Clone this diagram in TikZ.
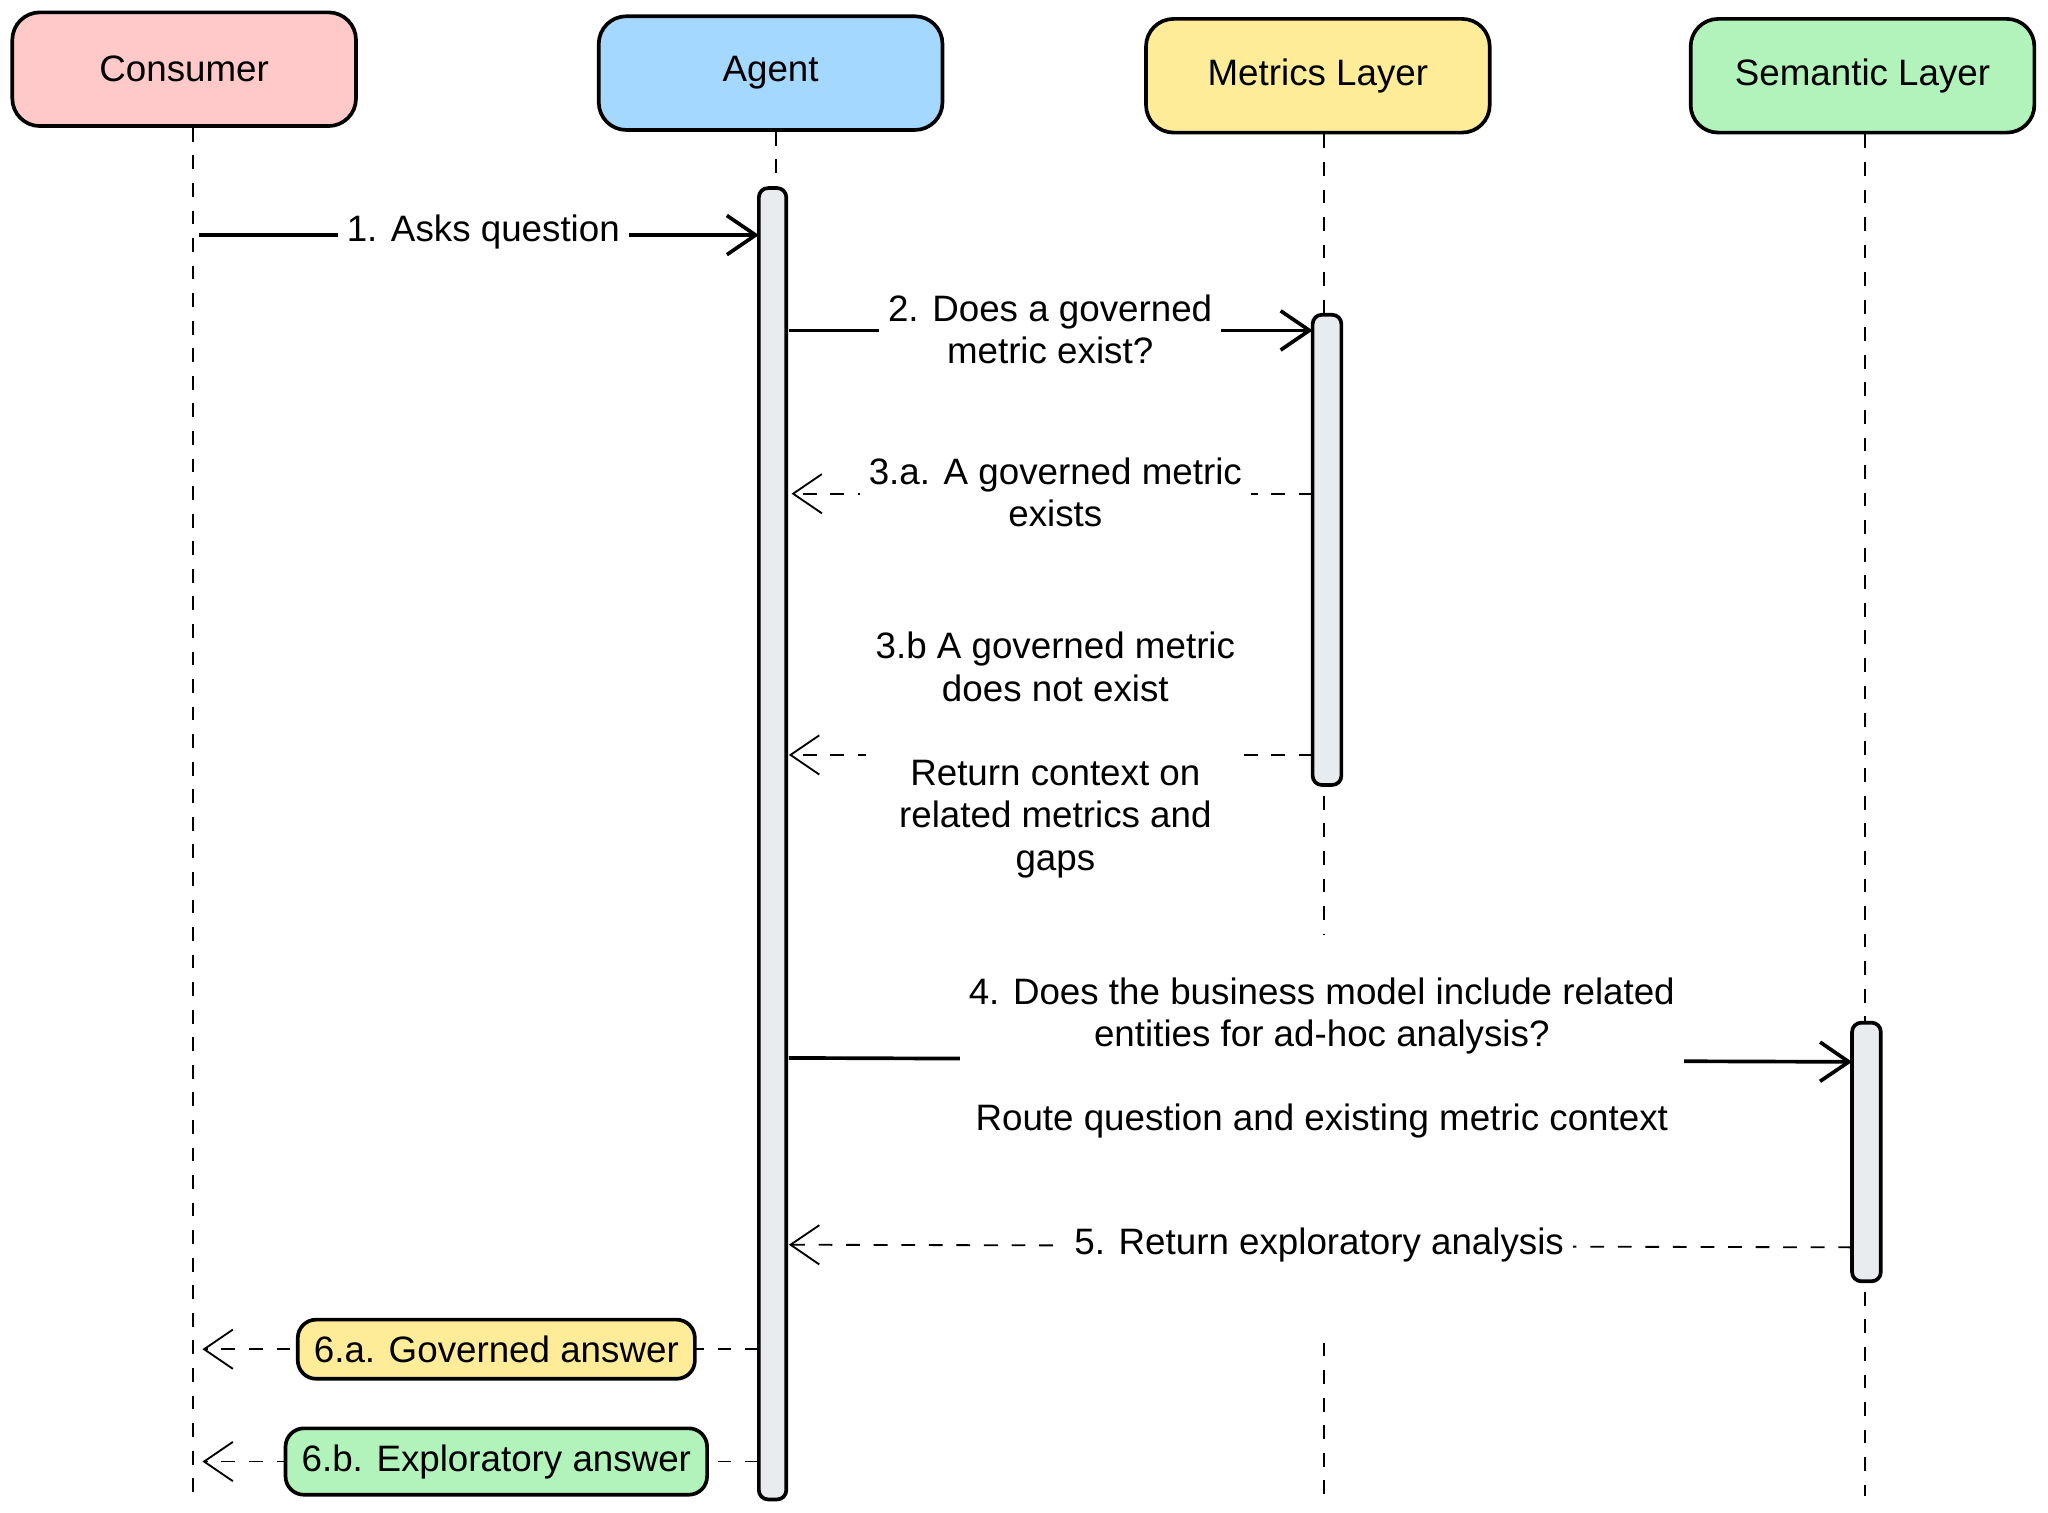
\documentclass[tikz,border=0pt]{standalone}
\usepackage{fontspec}
\setmainfont{Liberation Sans}
\usetikzlibrary{arrows.meta}
\definecolor{cpink}{HTML}{FFC9C9}
\definecolor{cblue}{HTML}{A5D8FF}
\definecolor{cyel}{HTML}{FFEC99}
\definecolor{cgreen}{HTML}{B2F2BB}
\definecolor{cgray}{HTML}{E9ECEF}
\begin{document}
\begin{tikzpicture}[x=0.01cm,y=-0.01cm,font=\fontsize{8}{9.2}\selectfont,
    actor/.style={draw,thick,rounded corners=6pt,minimum width=2.63cm,minimum height=0.87cm},
    act/.style={draw,thick,fill=cgray,rounded corners=2pt},
    life/.style={dashed,thin},
    msg/.style={thick,-{Straight Barb[length=2.2mm,width=3mm]}},
    ret/.style={thin,dashed,-{Straight Barb[length=2.2mm,width=3mm]}},
    lbl/.style={fill=white,align=center,inner sep=2pt},
    tag/.style={draw,thick,rounded corners=4pt,inner sep=3.5pt}]
    \useasboundingbox (0,0) rectangle (1568,1158);

    % actors
    \node[actor,fill=cpink] (cons) at (141,53) {Consumer};
    \node[actor,fill=cblue] (agent) at (590,56) {Agent};
    \node[actor,fill=cyel] (metr) at (1009,58) {Metrics Layer};
    \node[actor,fill=cgreen] (sem) at (1426,58) {Semantic Layer};

    % lifelines
    \coordinate (consE) at (148,1145);
    \coordinate (agentE) at (594,144);
    \coordinate (metrA) at (1014,715);
    \coordinate (metrB) at (1014,1028);
    \coordinate (metrE) at (1014,1145);
    \coordinate (semE) at (1428,1145);
    \draw[life] (cons.south -| consE) -- (consE);
    \draw[life] (agent.south -| agentE) -- (agentE);
    \draw[life] (metr.south -| metrA) -- (metrA);
    \draw[life] (metrB) -- (metrE);
    \draw[life] (sem.south -| semE) -- (semE);

    % activations
    \draw[act] (581,144) rectangle (602,1148);
    \draw[act] (1005,241) rectangle (1027,601);
    \draw[act] (1418,783) rectangle (1440,981);

    % messages
    \draw[msg] (152,180) -- (581,180);
    \node[lbl] (m1) at (370,178) {1. Asks question};
    \draw[msg] (604,253) -- (1005,253);
    \node[lbl] (m2) at (804,252) {2. Does a governed\\metric exist?};
    \draw[ret] (1005,378) -- (606,378);
    \node[lbl] (m3a) at (808,377) {3.a. A governed metric\\exists};
    \draw[ret] (1005,578) -- (604,578);
    \node[lbl] (m3b) at (808,578) {3.b A governed metric\\does not exist\\[9.2pt]Return context on\\related metrics and\\gaps};
    \draw[msg] (604,810) -- (1418,813);
    \node[lbl] (m4) at (1012,810) {4. Does the business model include related\\entities for ad-hoc analysis?\\[9.2pt]Route question and existing metric context};
    \draw[ret] (1418,955) -- (604,953);
    \node[lbl] (m5) at (1010,953) {5. Return exploratory analysis};
    \draw[ret] (581,1033) -- (155,1033);
    \node[tag,fill=cyel] (m6a) at (380,1033) {6.a. Governed answer};
    \draw[ret] (581,1119) -- (155,1119);
    \node[tag,fill=cgreen] (m6b) at (380,1119) {6.b. Exploratory answer};
\end{tikzpicture}
\end{document}
